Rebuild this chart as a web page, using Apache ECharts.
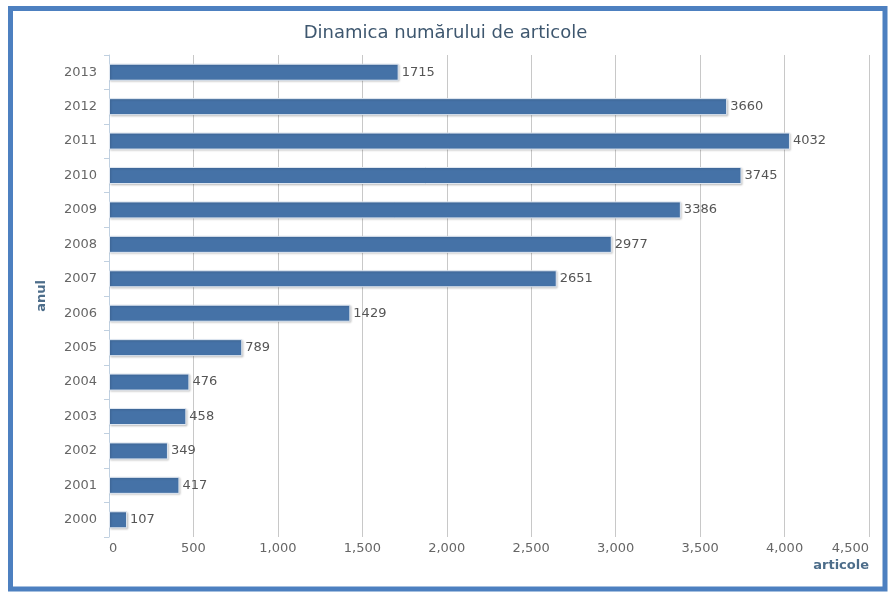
<!DOCTYPE html>
<html>
<head>
<meta charset="utf-8">
<script src="https://cdn.jsdelivr.net/npm/echarts@6/dist/echarts.min.js"></script>
<style>
html,body{margin:0;padding:0;background:#fff;}
#chart{width:891px;height:593px;}
</style>
</head>
<body>
<div id="chart"></div>
<script>
const titleText = 'Dinamica numărului de articole';
const years = ['2000','2001','2002','2003','2004','2005','2006','2007','2008','2009','2010','2011','2012','2013'];
const articles = [107, 417, 349, 458, 476, 789, 1429, 2651, 2977, 3386, 3745, 4032, 3660, 1715];
const xAxisName = 'articole';
const yAxisName = 'anul';

const chart = echarts.init(document.getElementById('chart'), null, {renderer:'canvas'});
const fontFam = '"DejaVu Sans", Verdana, sans-serif';
chart.setOption({
  animation: false,
  backgroundColor: '#fff',
  title: {
    text: titleText,
    left: 'center',
    top: 19,
    textStyle: {color:'#3e576f', fontSize:18, fontWeight:'normal', fontFamily: fontFam}
  },
  graphic: [{
    type: 'rect',
    shape: {x: 10.5, y: 8.5, width: 874.5, height: 580.5},
    style: {fill: 'none', stroke: '#4d80c0', lineWidth: 5},
    silent: true
  }],
  grid: {left: 109, right: 22, top: 55, bottom: 56, containLabel: false},
  xAxis: {
    type: 'value',
    min: 0, max: 4500, interval: 500,
    name: xAxisName,
    nameLocation: 'end',
    nameGap: 0,
    nameTextStyle: {color:'#4d6d8a', fontWeight:'bold', fontSize:13, fontFamily: fontFam, align:'right', verticalAlign:'top', padding:[22,0,0,0]},
    axisLine: {show:false},
    axisTick: {show:false},
    axisLabel: {color:'#666', fontSize:13, fontFamily: fontFam, margin:5,
      alignMinLabel:'left', alignMaxLabel:'right',
      formatter: v => v.toLocaleString('en-US')},
    splitLine: {show:true, lineStyle:{color:'#c8c8c8', width:1}}
  },
  yAxis: {
    type: 'category',
    data: years,
    name: yAxisName,
    nameLocation: 'middle',
    nameGap: 61,
    nameRotate: 90,
    nameTextStyle: {color:'#4d6d8a', fontWeight:'bold', fontSize:13, fontFamily: fontFam},
    axisLine: {show:true, lineStyle:{color:'#c0d0e0', width:1}},
    axisTick: {show:true, length:5, lineStyle:{color:'#c0d0e0'}},
    axisLabel: {color:'#666', fontSize:13, fontFamily: fontFam, margin:12}
  },
  series: [{
    type: 'bar',
    data: articles,
    barWidth: 17,
    itemStyle: {color:'#4572a7', borderColor:'#dfe7f1', borderWidth:1,
      shadowColor:'rgba(0,0,0,0.18)', shadowBlur:2, shadowOffsetX:1, shadowOffsetY:1},
    label: {show:true, position:'right', distance:3, color:'#555', fontSize:13, fontFamily: fontFam}
  }]
});
</script>
</body>
</html>
